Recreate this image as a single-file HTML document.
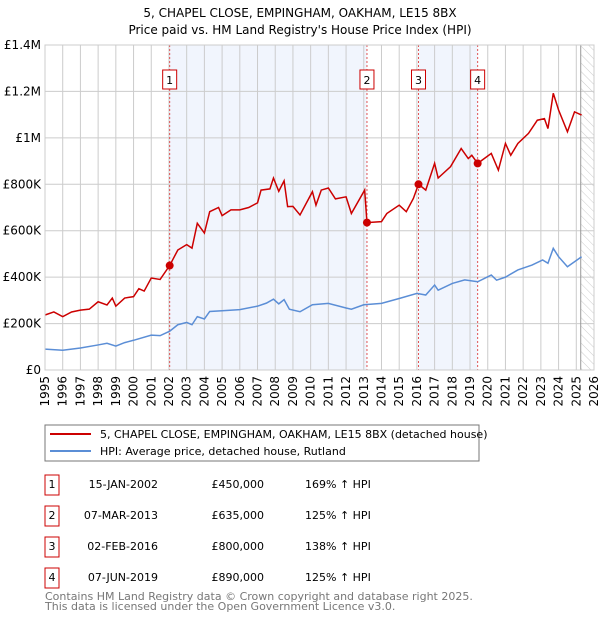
<!DOCTYPE html>
<html><head><meta charset="utf-8"><style>
body{margin:0;background:#fff;width:600px;height:620px;overflow:hidden;font-family:"DejaVu Sans","Liberation Sans",sans-serif}
svg text{font-family:"DejaVu Sans","Liberation Sans",sans-serif}
</style></head><body>
<svg id="c" width="600" height="620" xmlns="http://www.w3.org/2000/svg">
<defs><pattern id="hatch" width="6" height="6" patternUnits="userSpaceOnUse" patternTransform="rotate(-45)"><line x1="0" y1="0" x2="0" y2="6" stroke="#ccc" stroke-width="1"/></pattern></defs>
<text x="300" y="17" text-anchor="middle" font-size="12">5, CHAPEL CLOSE, EMPINGHAM, OAKHAM, LE15 8BX</text>
<text x="300" y="34" text-anchor="middle" font-size="12">Price paid vs. HM Land Registry's House Price Index (HPI)</text>
<g id="plot"></g>
<rect x="45" y="425" width="434" height="36" fill="#fff" stroke="#777"/>
<line x1="50" y1="434" x2="91" y2="434" stroke="#cc0000" stroke-width="2"/>
<text x="100" y="438" font-size="11">5, CHAPEL CLOSE, EMPINGHAM, OAKHAM, LE15 8BX (detached house)</text>
<line x1="50" y1="451" x2="91" y2="451" stroke="#5b8ed6" stroke-width="2"/>
<text x="100" y="455" font-size="11">HPI: Average price, detached house, Rutland</text>
<g id="table" font-size="11"></g>
<text x="45" y="600" font-size="11" fill="#777">Contains HM Land Registry data © Crown copyright and database right 2025.</text>
<text x="45" y="610" font-size="11" fill="#777">This data is licensed under the Open Government Licence v3.0.</text>
</svg>
<script>
const redYears=[1995,1995.5,1996,1996.5,1997,1997.5,1998,1998.5,1998.8,1999,1999.5,2000,2000.3,2000.6,2001,2001.5,2002.04,2002.5,2003,2003.3,2003.6,2004,2004.3,2004.8,2005,2005.5,2006,2006.5,2007,2007.2,2007.7,2007.9,2008.2,2008.5,2008.7,2009,2009.4,2010.1,2010.3,2010.6,2011,2011.4,2012,2012.3,2013.05,2013.18,2014,2014.3,2015,2015.4,2015.8,2016.09,2016.5,2017,2017.2,2017.9,2018.5,2018.9,2019.1,2019.43,2020.2,2020.6,2021,2021.3,2021.7,2022.3,2022.8,2023.2,2023.4,2023.7,2024,2024.5,2024.9,2025.3];
const redValues=[237,250,230,250,258,262,294,280,310,275,310,316,350,340,396,390,450,517,540,525,632,590,682,700,665,690,690,700,720,775,780,827,770,815,704,705,668,768,710,775,784,737,746,674,775,635,639,674,710,682,739,800,775,890,827,876,954,911,925,890,933,861,976,925,976,1019,1076,1083,1040,1192,1120,1026,1112,1098];
const hpiYears=[1995,1996,1997,1998,1998.5,1999,1999.5,2000,2001,2001.5,2002.04,2002.5,2003,2003.3,2003.6,2004,2004.3,2005,2006,2007,2007.5,2007.9,2008.2,2008.5,2008.8,2009.4,2010.1,2011,2012,2012.3,2013,2013.18,2014,2015,2016,2016.5,2017,2017.2,2018,2018.7,2019.43,2020.2,2020.5,2021,2021.7,2022.5,2023.1,2023.4,2023.7,2024,2024.5,2025.3];
const hpiValues=[90,85,95,108,115,103,118,128,150,148,167,195,205,195,230,220,252,255,260,275,288,305,285,303,262,251,281,287,267,262,281,282,287,308,330,323,366,344,373,388,380,409,387,400,431,452,474,460,524,488,445,488];
const saleLabels=["1","2","3","4"];
const saleYears=[2002.04,2013.18,2016.09,2019.43];
const saleValues=[450,635,800,890];
const saleDates=["15-JAN-2002","07-MAR-2013","02-FEB-2016","07-JUN-2019"];
const salePrices=["£450,000","£635,000","£800,000","£890,000"];
const salePcts=["169% ↑ HPI","125% ↑ HPI","138% ↑ HPI","125% ↑ HPI"];
const yTicks=[0,200,400,600,800,1000,1200,1400];
const yTickLabels=["£0","£200K","£400K","£600K","£800K","£1M","£1.2M","£1.4M"];
const shadeRanges=[[2002.04,2013.18],[2016.09,2019.43]];

const NS="http://www.w3.org/2000/svg";
const X0=45,X1=594,Y0=370,Y1=45,T0=1995,T1=2026,VMAX=1400;
const xs=t=>X0+(t-T0)*(X1-X0)/(T1-T0);
const ys=v=>Y0-v*(Y0-Y1)/VMAX;
const g=document.getElementById('plot');
function mk(tag,attrs,parent){const e=document.createElementNS(NS,tag);for(const k in attrs)e.setAttribute(k,attrs[k]);(parent||g).appendChild(e);return e;}
let r=mk('rect',{x:X0,y:Y1,width:X1-X0,height:Y0-Y1,fill:'#fff'});


shadeRanges.forEach(s=>{const e=mk('rect',{x:xs(s[0]),y:Y1,width:xs(s[1])-xs(s[0]),height:Y0-Y1,fill:'#eef3fc',opacity:0.8});

});
let h=mk('rect',{x:xs(2025.25),y:Y1,width:X1-xs(2025.25),height:Y0-Y1,fill:'url(#hatch)'});


for(let t=T0;t<=T1;t++){const x=xs(t);
const l=mk('line',{x1:x,y1:Y1,x2:x,y2:Y0,stroke:'#ccc','stroke-width':1});


const tx=mk('text',{x:0,y:0,'font-size':12,'text-anchor':'end',transform:`translate(${x+4},${Y0+6}) rotate(-90)`});
tx.textContent=t;

}
yTicks.forEach((v,i)=>{const y=ys(v);
const l=mk('line',{x1:X0,y1:y,x2:X1,y2:y,stroke:'#ccc','stroke-width':1});


const tx=mk('text',{x:X0-4,y:y+4,'font-size':12,'text-anchor':'end'});
tx.textContent=yTickLabels[i];

});
let nl=mk('line',{x1:xs(2025.25),y1:Y1,x2:xs(2025.25),y2:Y0,stroke:'#999','stroke-width':1});


saleYears.forEach((t,i)=>{const x=xs(t);
const l=mk('line',{x1:x,y1:Y1,x2:x,y2:Y0,stroke:'#e05555','stroke-width':1,'stroke-dasharray':'2,2'});


const b=mk('rect',{x:x-7,y:70,width:14,height:19,fill:'#fff',stroke:'#cc0000'});


const tx=mk('text',{x:x,y:84,'font-size':11,'text-anchor':'middle'});
tx.textContent=saleLabels[i];

});
const hp=mk('polyline',{points:hpiYears.map((t,i)=>xs(t)+','+ys(hpiValues[i])).join(' '),fill:'none',stroke:'#5b8ed6','stroke-width':1.5});


const rp=mk('polyline',{points:redYears.map((t,i)=>xs(t)+','+ys(redValues[i])).join(' '),fill:'none',stroke:'#cc0000','stroke-width':1.5});


saleYears.forEach((t,i)=>{const c=mk('circle',{cx:xs(t),cy:ys(saleValues[i]),r:4,fill:'#cc0000'});

});
let bd=mk('rect',{x:X0,y:Y1,width:X1-X0,height:Y0-Y1,fill:'none',stroke:'#ccc'});


const tb=document.getElementById('table');
saleLabels.forEach((s,i)=>{const y=484+i*31;
const b=mk('rect',{x:45,y:y-9,width:14,height:20,fill:'#fff',stroke:'#cc0000'},tb);


const cols=[[52,s,'middle'],[158,saleDates[i],'end'],[264,salePrices[i],'end'],[305,salePcts[i],'start']];
const nm=['table-row-number','table-row-date','table-row-price','table-row-hpi-change'];
cols.forEach((c,j)=>{const tx=mk('text',{x:c[0],y:y+4,'text-anchor':c[2]},tb);tx.textContent=c[1];

});});
</script>
</body></html>
